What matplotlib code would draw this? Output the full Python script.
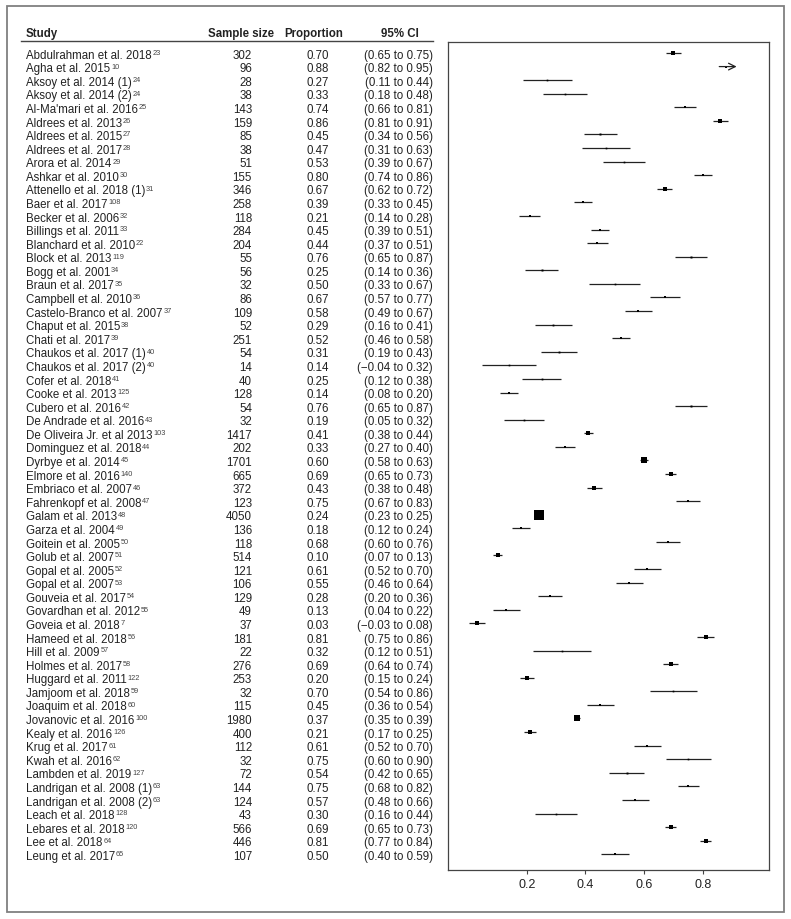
import matplotlib.pyplot as plt
import matplotlib.transforms as mtransforms
from matplotlib.patches import Rectangle
from matplotlib.lines import Line2D
import numpy as np

plt.rcParams['font.family'] = ['Liberation Sans', 'DejaVu Sans']

# study labels and reference numbers
studies = ["Abdulrahman et al. 2018", "Agha et al. 2015", "Aksoy et al. 2014 (1)", "Aksoy et al. 2014 (2)",
           "Al-Ma'mari et al. 2016", "Aldrees et al. 2013", "Aldrees et al. 2015", "Aldrees et al. 2017",
           "Arora et al. 2014", "Ashkar et al. 2010", "Attenello et al. 2018 (1)", "Baer et al. 2017",
           "Becker et al. 2006", "Billings et al. 2011", "Blanchard et al. 2010", "Block et al. 2013",
           "Bogg et al. 2001", "Braun et al. 2017", "Campbell et al. 2010", "Castelo-Branco et al. 2007",
           "Chaput et al. 2015", "Chati et al. 2017", "Chaukos et al. 2017 (1)", "Chaukos et al. 2017 (2)",
           "Cofer et al. 2018", "Cooke et al. 2013", "Cubero et al. 2016", "De Andrade et al. 2016",
           "De Oliveira Jr. et al 2013", "Dominguez et al. 2018", "Dyrbye et al. 2014", "Elmore et al. 2016",
           "Embriaco et al. 2007", "Fahrenkopf et al. 2008", "Galam et al. 2013", "Garza et al. 2004",
           "Goitein et al. 2005", "Golub et al. 2007", "Gopal et al. 2005", "Gopal et al. 2007",
           "Gouveia et al. 2017", "Govardhan et al. 2012", "Goveia et al. 2018", "Hameed et al. 2018",
           "Hill et al. 2009", "Holmes et al. 2017", "Huggard et al. 2011", "Jamjoom et al. 2018",
           "Joaquim et al. 2018", "Jovanovic et al. 2016", "Kealy et al. 2016", "Krug et al. 2017",
           "Kwah et al. 2016", "Lambden et al. 2019", "Landrigan et al. 2008 (1)", "Landrigan et al. 2008 (2)",
           "Leach et al. 2018", "Lebares et al. 2018", "Lee et al. 2018", "Leung et al. 2017"]
refs = ["23", "10", "24", "24", "25", "26", "27", "28", "29", "30", "31", "108", "32", "33", "22", "119",
        "34", "35", "36", "37", "38", "39", "40", "40", "41", "125", "42", "43", "103", "44", "45", "140",
        "46", "47", "48", "49", "50", "51", "52", "53", "54", "55", "7", "56", "57", "58", "122", "59",
        "60", "100", "126", "61", "62", "127", "63", "63", "128", "120", "64", "65"]
sample_size = [302, 96, 28, 38, 143, 159, 85, 38, 51, 155, 346, 258, 118, 284, 204, 55, 56, 32, 86, 109,
               52, 251, 54, 14, 40, 128, 54, 32, 1417, 202, 1701, 665, 372, 123, 4050, 136, 118, 514, 121,
               106, 129, 49, 37, 181, 22, 276, 253, 32, 115, 1980, 400, 112, 32, 72, 144, 124, 43, 566,
               446, 107]
proportion = [0.70, 0.88, 0.27, 0.33, 0.74, 0.86, 0.45, 0.47, 0.53, 0.80, 0.67, 0.39, 0.21, 0.45, 0.44,
              0.76, 0.25, 0.50, 0.67, 0.58, 0.29, 0.52, 0.31, 0.14, 0.25, 0.14, 0.76, 0.19, 0.41, 0.33,
              0.60, 0.69, 0.43, 0.75, 0.24, 0.18, 0.68, 0.10, 0.61, 0.55, 0.28, 0.13, 0.03, 0.81, 0.32,
              0.69, 0.20, 0.70, 0.45, 0.37, 0.21, 0.61, 0.75, 0.54, 0.75, 0.57, 0.30, 0.69, 0.81, 0.50]
ci_low = [0.65, 0.82, 0.11, 0.18, 0.66, 0.81, 0.34, 0.31, 0.39, 0.74, 0.62, 0.33, 0.14, 0.39, 0.37,
          0.65, 0.14, 0.33, 0.57, 0.49, 0.16, 0.46, 0.19, -0.04, 0.12, 0.08, 0.65, 0.05, 0.38, 0.27,
          0.58, 0.65, 0.38, 0.67, 0.23, 0.12, 0.60, 0.07, 0.52, 0.46, 0.20, 0.04, -0.03, 0.75, 0.12,
          0.64, 0.15, 0.54, 0.36, 0.35, 0.17, 0.52, 0.60, 0.42, 0.68, 0.48, 0.16, 0.65, 0.77, 0.40]
ci_high = [0.75, 0.95, 0.44, 0.48, 0.81, 0.91, 0.56, 0.63, 0.67, 0.86, 0.72, 0.45, 0.28, 0.51, 0.51,
           0.87, 0.36, 0.67, 0.77, 0.67, 0.41, 0.58, 0.43, 0.32, 0.38, 0.20, 0.87, 0.32, 0.44, 0.40,
           0.63, 0.73, 0.48, 0.83, 0.25, 0.24, 0.76, 0.13, 0.70, 0.64, 0.36, 0.22, 0.08, 0.86, 0.51,
           0.74, 0.24, 0.86, 0.54, 0.39, 0.25, 0.70, 0.90, 0.65, 0.82, 0.66, 0.44, 0.73, 0.84, 0.59]
x_ticks = [0.2, 0.4, 0.6, 0.8]

W, H = 791, 920
fig = plt.figure(figsize=(W / 100, H / 100), dpi=100)

# outer border
fig.patches.append(Rectangle((7 / W, 7 / H), 777 / W, 906 / H, transform=fig.transFigure,
                             fill=False, edgecolor='#808080', linewidth=1.3))

ax = fig.add_axes([448 / W, 49 / H, 321 / W, 828 / H])
nrow = len(studies)
rows = np.arange(nrow)
p = np.array(proportion)
se = (np.array(ci_high) - np.array(ci_low)) / 3.92   # bars in the plot are +/- 1 SE
lo = p - se
hi = p + se
clip_hi = 0.9

for i in rows:
    if hi[i] > clip_hi:
        ax.annotate('', xy=(0.925, i), xytext=(lo[i], i),
                    arrowprops=dict(arrowstyle='->', color='#222', lw=0.9, mutation_scale=12))
    else:
        ax.plot([lo[i], hi[i]], [i, i], color='#222', lw=0.9, solid_capstyle='butt')
    ms = 0.2 * (1 / se[i]) ** 0.68
    ax.plot(p[i], i, marker='s', color='black', markersize=max(ms, 1.2), mew=0)

ax.set_xlim(-0.069, 1.026)
ax.set_ylim(60.16, -0.81)
ax.set_yticks([])
ax.set_xticks(x_ticks)
ax.set_xticklabels([f'{t:.1f}' for t in x_ticks], fontsize=9, color='#222')
ax.tick_params(axis='x', length=3, width=0.8, color='#444', pad=3)
for s in ax.spines.values():
    s.set_color('#444')
    s.set_linewidth(0.9)

# table on the left
tr = mtransforms.blended_transform_factory(fig.transFigure, ax.transData)
fs = 8.3
tc = '#222'
hy = -1.5
dy = 0.12   # table text sits a touch lower than the markers
fig.text(26 / W, hy, 'Study', transform=tr, fontsize=fs, fontweight='bold', ha='left', va='center', color=tc)
fig.text(241 / W, hy, 'Sample size', transform=tr, fontsize=fs, fontweight='bold', ha='center', va='center', color=tc)
fig.text(314 / W, hy, 'Proportion', transform=tr, fontsize=fs, fontweight='bold', ha='center', va='center', color=tc)
fig.text(400 / W, hy, '95% CI', transform=tr, fontsize=fs, fontweight='bold', ha='center', va='center', color=tc)
fig.add_artist(Line2D([21 / W, 433 / W], [-0.88, -0.88], transform=tr, color='#444', lw=1.0))

name_texts = []
for i in rows:
    y = i + dy
    t = fig.text(26 / W, y, studies[i], transform=tr, fontsize=fs, ha='left', va='center', color=tc)
    name_texts.append(t)
    fig.text(252 / W, y, str(sample_size[i]), transform=tr, fontsize=fs, ha='right', va='center', color=tc)
    fig.text(318 / W, y, f'{proportion[i]:.2f}', transform=tr, fontsize=fs, ha='center', va='center', color=tc)
    ci = f'({ci_low[i]:.2f} to {ci_high[i]:.2f})'.replace('-', '\u2212')
    fig.text(433 / W, y, ci, transform=tr, fontsize=fs, ha='right', va='center', color=tc)

# superscript reference numbers placed right after each study name
renderer = fig.canvas.get_renderer()
for t, r in zip(name_texts, refs):
    bb = t.get_window_extent(renderer)
    fig.text((bb.x1 + 0.8) / W, (bb.y1 - 0.3) / H, r, fontsize=5.3, ha='left', va='top', color='#444')

fig.savefig('out.png', dpi=100)
